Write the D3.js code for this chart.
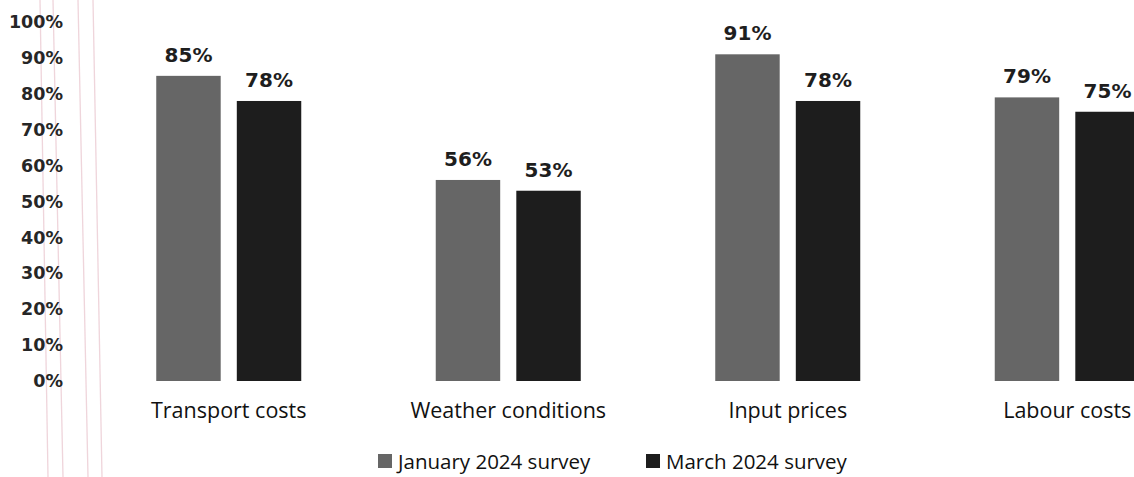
<!DOCTYPE html>
<html>
<head>
<meta charset="utf-8">
<script src="https://cdn.jsdelivr.net/npm/d3@7"></script>
<style>
  html, body { margin: 0; padding: 0; background: #ffffff; }
  svg { display: block; }
</style>
</head>
<body>
<svg id="chart" width="1134" height="477"></svg>
<script>
// Share of respondents citing each factor, by survey round
const categories = ["Transport costs", "Weather conditions", "Input prices", "Labour costs"];
const seriesNames = ["January 2024 survey", "March 2024 survey"];
const january2024 = [85, 56, 91, 79];
const march2024 = [78, 53, 78, 75];
const yTicks = [0, 10, 20, 30, 40, 50, 60, 70, 80, 90, 100];
const seriesColors = ["#666666", "#1d1d1d"];

const seriesValues = [january2024, march2024];
const rows = categories.map((c, i) => ({
  category: c,
  values: seriesNames.map((s, j) => ({ series: s, value: seriesValues[j][i], color: seriesColors[j] }))
}));

const svg = d3.select("#chart");
const W = 1134, H = 477;

// faint ruled margin lines of the page
const marginLines = [[40, 48], [53, 63], [78, 88], [93, 102]];
svg.append("g").selectAll("line").data(marginLines).join("line")
  .attr("x1", d => d[0]).attr("y1", 0)
  .attr("x2", d => d[1]).attr("y2", H)
  .attr("stroke", "#eccbd3").attr("stroke-width", 1.3).attr("opacity", 0.8);

const y = d3.scaleLinear().domain([0, 100]).range([381, 22]);

const x0 = d3.scaleBand().domain(categories).range([89, 1207]).paddingInner(0).paddingOuter(0);
const x1 = d3.scaleBand().domain(seriesNames).range([-72.5, 72.5]).paddingInner(0.2);

// y axis: labels only
const yAxis = d3.axisLeft(y).tickValues(yTicks).tickFormat(d => d + "%").tickSize(0).tickPadding(0);
const yG = svg.append("g").attr("transform", "translate(63,0)").call(yAxis);
yG.select(".domain").remove();
yG.selectAll("text")
  .attr("font-family", "DejaVu Sans, sans-serif")
  .attr("font-weight", "bold")
  .attr("font-size", 17.5)
  .attr("fill", "#262626");

// bars
const groups = svg.append("g").selectAll("g").data(rows).join("g")
  .attr("transform", d => `translate(${x0(d.category) + x0.bandwidth() / 2},0)`);

groups.selectAll("rect").data(d => d.values).join("rect")
  .attr("x", d => x1(d.series))
  .attr("width", x1.bandwidth())
  .attr("y", d => y(d.value))
  .attr("height", d => y(0) - y(d.value))
  .attr("fill", d => d.color);

// value labels
groups.selectAll("text.val").data(d => d.values).join("text")
  .attr("class", "val")
  .attr("x", d => x1(d.series) + x1.bandwidth() / 2)
  .attr("y", d => y(d.value) - 14)
  .attr("text-anchor", "middle")
  .attr("font-family", "DejaVu Sans, sans-serif")
  .attr("font-weight", "bold")
  .attr("font-size", 20)
  .attr("fill", "#1e1e1e")
  .text(d => d.value + "%");

// category axis labels
const xAxis = d3.axisBottom(x0).tickSize(0).tickPadding(0);
const xG = svg.append("g").attr("transform", "translate(0,403)").call(xAxis);
xG.select(".domain").remove();
xG.selectAll("text")
  .attr("dy", "0.71em")
  .attr("font-family", "Open Sans, sans-serif")
  .attr("font-size", 21.5)
  .attr("fill", "#111111");

// legend
const legendItems = [
  { name: seriesNames[0], color: seriesColors[0], x: 378 },
  { name: seriesNames[1], color: seriesColors[1], x: 646 }
];
const lg = svg.append("g").selectAll("g").data(legendItems).join("g")
  .attr("transform", d => `translate(${d.x},0)`);
lg.append("rect").attr("x", 0).attr("y", 454).attr("width", 14).attr("height", 14)
  .attr("fill", d => d.color);
lg.append("text").attr("x", 20).attr("y", 469)
  .attr("font-family", "Open Sans, sans-serif")
  .attr("font-size", 20.5)
  .attr("fill", "#111111")
  .text(d => d.name);
</script>
</body>
</html>
